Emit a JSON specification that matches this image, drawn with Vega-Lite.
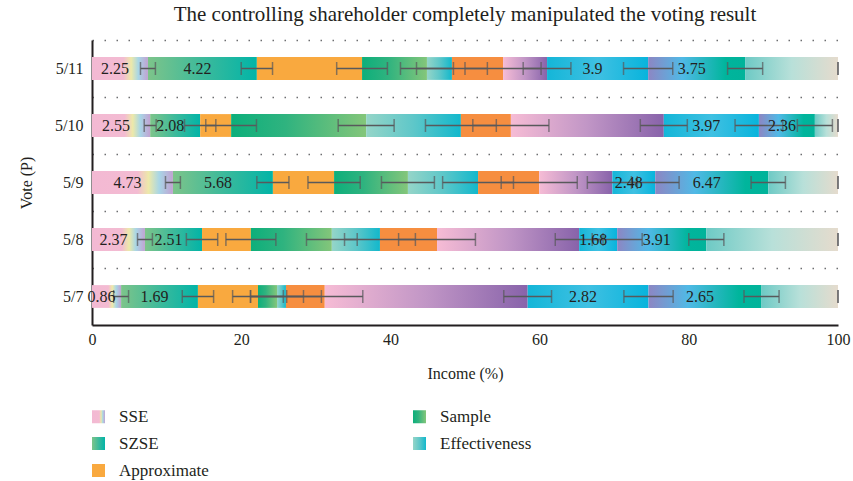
{
  "$schema": "https://vega.github.io/schema/vega-lite/v6.json",
  "autosize": {"type": "none"},
  "padding": {"left": 92, "top": 40, "right": 15, "bottom": 156},
  "width": 746,
  "height": 285,
  "background": "white",
  "title": {
    "text": "The controlling shareholder completely manipulated the voting result",
    "font": "Liberation Serif",
    "fontSize": 21,
    "fontWeight": "normal",
    "color": "#231f20",
    "anchor": "middle",
    "offset": 15
  },
  "config": {
    "view": {"stroke": null},
    "font": "Liberation Serif"
  },
  "data": {
    "values": [
      {"date": "5/11", "seg": "SSE", "order": 1, "value": 7.5, "err": 1.0, "label": "2.25"},
      {"date": "5/11", "seg": "SZSE", "order": 2, "value": 14.6, "err": 2.1, "label": "4.22"},
      {"date": "5/11", "seg": "Approximate", "order": 3, "value": 14.1, "err": 3.4, "label": null},
      {"date": "5/11", "seg": "Sample", "order": 4, "value": 8.7, "err": 3.55, "label": null},
      {"date": "5/11", "seg": "Effectiveness", "order": 5, "value": 3.35, "err": 4.75, "label": null},
      {"date": "5/11", "seg": "Orange", "order": 6, "value": 6.85, "err": 5.1, "label": null},
      {"date": "5/11", "seg": "Mauve", "order": 7, "value": 5.9, "err": 3.2, "label": null},
      {"date": "5/11", "seg": "Cyan", "order": 8, "value": 13.55, "err": 3.3, "label": "3.9"},
      {"date": "5/11", "seg": "Indigo", "order": 9, "value": 13.0, "err": 2.35, "label": "3.75"},
      {"date": "5/11", "seg": "Mist", "order": 10, "value": 12.45, "err": 0, "label": null},

      {"date": "5/10", "seg": "SSE", "order": 1, "value": 7.8, "err": 0.8, "label": "2.55"},
      {"date": "5/10", "seg": "SZSE", "order": 2, "value": 6.7, "err": 2.1, "label": "2.08"},
      {"date": "5/10", "seg": "Approximate", "order": 3, "value": 4.15, "err": 3.4, "label": null},
      {"date": "5/10", "seg": "Sample", "order": 4, "value": 18.1, "err": 3.75, "label": null},
      {"date": "5/10", "seg": "Effectiveness", "order": 5, "value": 12.7, "err": 4.75, "label": null},
      {"date": "5/10", "seg": "Orange", "order": 6, "value": 6.7, "err": 5.1, "label": null},
      {"date": "5/10", "seg": "Mauve", "order": 7, "value": 20.5, "err": 3.15, "label": null},
      {"date": "5/10", "seg": "Cyan", "order": 8, "value": 12.75, "err": 3.2, "label": "3.97"},
      {"date": "5/10", "seg": "Indigo", "order": 9, "value": 7.5, "err": 2.35, "label": "2.36"},
      {"date": "5/10", "seg": "Mist", "order": 10, "value": 3.1, "err": 0, "label": null},

      {"date": "5/9", "seg": "SSE", "order": 1, "value": 10.85, "err": 1.0, "label": "4.73"},
      {"date": "5/9", "seg": "SZSE", "order": 2, "value": 13.4, "err": 2.15, "label": "5.68"},
      {"date": "5/9", "seg": "Approximate", "order": 3, "value": 8.2, "err": 3.5, "label": null},
      {"date": "5/9", "seg": "Sample", "order": 4, "value": 9.9, "err": 3.55, "label": null},
      {"date": "5/9", "seg": "Effectiveness", "order": 5, "value": 9.4, "err": 4.75, "label": null},
      {"date": "5/9", "seg": "Orange", "order": 6, "value": 8.2, "err": 5.1, "label": null},
      {"date": "5/9", "seg": "Mauve", "order": 7, "value": 9.8, "err": 3.35, "label": null},
      {"date": "5/9", "seg": "Cyan", "order": 8, "value": 5.75, "err": 3.2, "label": "2.48"},
      {"date": "5/9", "seg": "Indigo", "order": 9, "value": 15.15, "err": 2.3, "label": "6.47"},
      {"date": "5/9", "seg": "Mist", "order": 10, "value": 9.35, "err": 0, "label": null},

      {"date": "5/8", "seg": "SSE", "order": 1, "value": 7.1, "err": 1.0, "label": "2.37"},
      {"date": "5/8", "seg": "SZSE", "order": 2, "value": 7.65, "err": 2.1, "label": "2.51"},
      {"date": "5/8", "seg": "Approximate", "order": 3, "value": 6.55, "err": 3.35, "label": null},
      {"date": "5/8", "seg": "Sample", "order": 4, "value": 10.85, "err": 3.4, "label": null},
      {"date": "5/8", "seg": "Effectiveness", "order": 5, "value": 6.45, "err": 4.75, "label": null},
      {"date": "5/8", "seg": "Orange", "order": 6, "value": 7.65, "err": 5.15, "label": null},
      {"date": "5/8", "seg": "Mauve", "order": 7, "value": 19.05, "err": 3.2, "label": null},
      {"date": "5/8", "seg": "Cyan", "order": 8, "value": 5.1, "err": 3.35, "label": "1.68"},
      {"date": "5/8", "seg": "Indigo", "order": 9, "value": 11.95, "err": 2.35, "label": "3.91"},
      {"date": "5/8", "seg": "Mist", "order": 10, "value": 17.65, "err": 0, "label": null},

      {"date": "5/7", "seg": "SSE", "order": 1, "value": 3.9, "err": 1.0, "label": "0.86"},
      {"date": "5/7", "seg": "SZSE", "order": 2, "value": 10.3, "err": 2.1, "label": "1.69"},
      {"date": "5/7", "seg": "Approximate", "order": 3, "value": 8.05, "err": 3.4, "label": null},
      {"date": "5/7", "seg": "Sample", "order": 4, "value": 2.55, "err": 3.55, "label": null},
      {"date": "5/7", "seg": "Effectiveness", "order": 5, "value": 1.2, "err": 4.75, "label": null},
      {"date": "5/7", "seg": "Orange", "order": 6, "value": 5.2, "err": 5.1, "label": null},
      {"date": "5/7", "seg": "Mauve", "order": 7, "value": 27.2, "err": 3.2, "label": null},
      {"date": "5/7", "seg": "Cyan", "order": 8, "value": 16.2, "err": 3.3, "label": "2.82"},
      {"date": "5/7", "seg": "Indigo", "order": 9, "value": 15.15, "err": 2.35, "label": "2.65"},
      {"date": "5/7", "seg": "Mist", "order": 10, "value": 10.25, "err": 0, "label": null}
    ]
  },
  "transform": [
    {"stack": "value", "groupby": ["date"], "sort": [{"field": "order", "order": "ascending"}], "as": ["x0", "x1"]},
    {"calculate": "(datum.x0 + datum.x1) / 2", "as": "mid"}
  ],
  "encoding": {
    "y": {
      "field": "date",
      "type": "nominal",
      "scale": {"domain": ["5/11", "5/10", "5/9", "5/8", "5/7"], "paddingInner": 0, "paddingOuter": 0},
      "axis": {
        "title": "Vote (P)",
        "titleFont": "Liberation Serif",
        "titleFontSize": 16,
        "titleFontWeight": "normal",
        "titleColor": "#231f20",
        "titlePadding": 20,
        "labelFont": "Liberation Serif",
        "labelFontSize": 16,
        "labelColor": "#231f20",
        "labelPadding": 9,
        "ticks": false,
        "domainColor": "#231f20",
        "domainWidth": 2,
        "grid": true,
        "bandPosition": 0,
        "gridColor": "#6d6e71",
        "gridDash": [1.5, 10.5],
        "gridWidth": 1.3
      }
    }
  },
  "layer": [
    {
      "mark": {"type": "bar", "height": {"band": 0.4}, "strokeWidth": 0},
      "encoding": {
        "x": {
          "field": "x0",
          "type": "quantitative",
          "title": "Income (%)",
          "scale": {"domain": [0, 100], "nice": false},
          "axis": {
            "title": "Income (%)",
            "titleFont": "Liberation Serif",
            "titleFontSize": 16,
            "titleFontWeight": "normal",
            "titleColor": "#231f20",
            "titlePadding": 18,
            "values": [0, 20, 40, 60, 80, 100],
            "labelFont": "Liberation Serif",
            "labelFontSize": 16,
            "labelColor": "#231f20",
            "labelPadding": 6,
            "labelFlush": false,
            "ticks": false,
            "grid": false,
            "domainColor": "#231f20",
            "domainWidth": 2
          }
        },
        "x2": {"field": "x1"},
        "color": {
          "field": "seg",
          "type": "nominal",
          "scale": {
            "domain": ["SSE", "SZSE", "Approximate", "Sample", "Effectiveness", "Orange", "Mauve", "Cyan", "Indigo", "Mist"],
            "range": [
              {"expr": "{gradient: 'linear', stops: [{offset: 0, color: '#f3b9d3'}, {offset: 0.56, color: '#f3bbd2'}, {offset: 0.7, color: '#ede9a9'}, {offset: 0.83, color: '#a8d6e6'}, {offset: 1, color: '#c1a2d2'}]}"},
              {"expr": "{gradient: 'linear', stops: [{offset: 0, color: '#7dc48a'}, {offset: 0.5, color: '#3dba9b'}, {offset: 1, color: '#02b4a7'}]}"},
              {"expr": "{gradient: 'linear', stops: [{offset: 0, color: '#f9a93f'}, {offset: 1, color: '#f9a93f'}]}"},
              {"expr": "{gradient: 'linear', stops: [{offset: 0, color: '#0daf7b'}, {offset: 0.4, color: '#2fb37f'}, {offset: 1, color: '#84c67a'}]}"},
              {"expr": "{gradient: 'linear', stops: [{offset: 0, color: '#95d5c8'}, {offset: 0.5, color: '#5ec7c9'}, {offset: 1, color: '#12b8cc'}]}"},
              {"expr": "{gradient: 'linear', stops: [{offset: 0, color: '#f68e40'}, {offset: 1, color: '#f68e40'}]}"},
              {"expr": "{gradient: 'linear', stops: [{offset: 0, color: '#f6bcd5'}, {offset: 0.5, color: '#c196c6'}, {offset: 1, color: '#8863aa'}]}"},
              {"expr": "{gradient: 'linear', stops: [{offset: 0, color: '#14b6d8'}, {offset: 0.5, color: '#3fc0e2'}, {offset: 1, color: '#08b4dc'}]}"},
              {"expr": "{gradient: 'linear', stops: [{offset: 0, color: '#8d86c3'}, {offset: 0.35, color: '#50b9e6'}, {offset: 0.8, color: '#00b59c'}, {offset: 1, color: '#01b39a'}]}"},
              {"expr": "{gradient: 'linear', stops: [{offset: 0, color: '#6ecac5'}, {offset: 0.5, color: '#b8e0d9'}, {offset: 1, color: '#e5dbcd'}]}"}
            ]
          },
          "legend": {
            "values": ["SSE", "SZSE", "Approximate", "Sample", "Effectiveness"],
            "title": null,
            "orient": "none",
            "legendX": -2,
            "legendY": 368,
            "columns": 2,
            "direction": "vertical",
            "columnPadding": 202,
            "rowPadding": 9,
            "padding": 0,
            "symbolType": "square",
            "symbolSize": 169,
            "symbolStrokeWidth": 0,
            "labelFont": "Liberation Serif",
            "labelFontSize": 17,
            "labelColor": "#231f20",
            "labelOffset": 12
          }
        }
      }
    },
    {
      "mark": {
        "type": "errorbar",
        "ticks": {"size": 13, "thickness": 1.5, "color": "#58595b"},
        "rule": {"strokeWidth": 1.5, "color": "#58595b"}
      },
      "encoding": {
        "x": {"field": "x1", "type": "quantitative", "title": "Income (%)"},
        "xError": {"field": "err"}
      }
    },
    {
      "transform": [{"filter": "isValid(datum.label)"}],
      "mark": {"type": "text", "font": "Liberation Serif", "fontSize": 16, "color": "#231f20", "dx": -5, "align": "center", "baseline": "middle"},
      "encoding": {
        "x": {"field": "mid", "type": "quantitative", "title": "Income (%)"},
        "text": {"field": "label"}
      }
    }
  ]
}
